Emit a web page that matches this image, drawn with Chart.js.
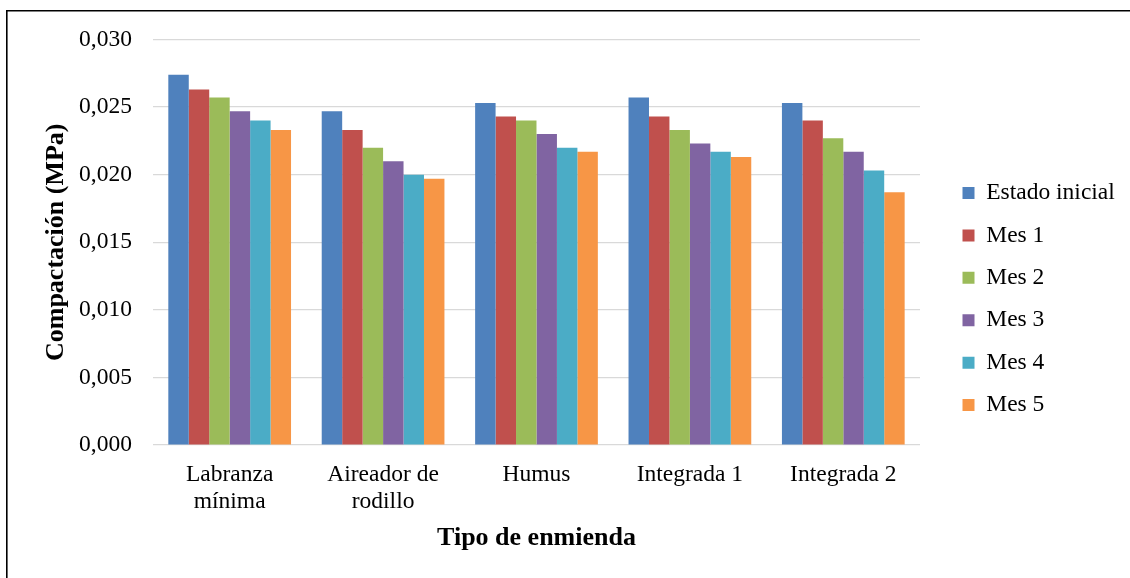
<!DOCTYPE html>
<html>
<head>
<meta charset="utf-8">
<script src="https://cdn.jsdelivr.net/npm/chart.js@4.4.1/dist/chart.umd.min.js"></script>
<style>
  html, body { margin: 0; padding: 0; background: #fff; }
  #wrap { position: relative; width: 1130px; height: 578px; }
</style>
</head>
<body>
<div id="wrap"><canvas id="c" width="1130" height="578"></canvas></div>
<script>
const categories = [['Labranza', 'mínima'], ['Aireador de', 'rodillo'], 'Humus', 'Integrada 1', 'Integrada 2'];
const seriesNames = ['Estado inicial', 'Mes 1', 'Mes 2', 'Mes 3', 'Mes 4', 'Mes 5'];
const estadoInicial = [0.0274, 0.0247, 0.0253, 0.0257, 0.0253];
const mes1 = [0.0263, 0.0233, 0.0243, 0.0243, 0.0240];
const mes2 = [0.0257, 0.0220, 0.0240, 0.0233, 0.0227];
const mes3 = [0.0247, 0.0210, 0.0230, 0.0223, 0.0217];
const mes4 = [0.0240, 0.0200, 0.0220, 0.0217, 0.0203];
const mes5 = [0.0233, 0.0197, 0.0217, 0.0213, 0.0187];
const yTickLabels = ['0,000', '0,005', '0,010', '0,015', '0,020', '0,025', '0,030'];
const colors = ['#4F81BD', '#C0504D', '#9BBB59', '#8064A2', '#4BACC6', '#F79646'];

const serif = "'Times New Roman', 'Liberation Serif', serif";
const allSeries = [estadoInicial, mes1, mes2, mes3, mes4, mes5];

const PLOT_RIGHT = 920;
const LEGEND_BOX_X = 962.5;
const LEGEND_DY = 2.5;
const LEGEND_PAD = 18.9;

const borderPlugin = {
  id: 'frame',
  beforeDraw(chart) {
    const ctx = chart.ctx;
    ctx.save();
    ctx.fillStyle = '#fff';
    ctx.fillRect(0, 0, chart.width, chart.height);
    ctx.strokeStyle = '#000';
    ctx.lineWidth = 1.6;
    ctx.beginPath();
    ctx.moveTo(6.8, chart.height);
    ctx.lineTo(6.8, 10.8);
    ctx.lineTo(chart.width, 10.8);
    ctx.stroke();
    ctx.restore();
  }
};

const legendPlace = {
  id: 'legendPlace',
  beforeUpdate(chart) {
    const lg = chart.legend;
    if (lg && !lg._fixedWidth) {
      lg._fixedWidth = true;
      const origFit = lg.fit;
      lg.fit = function () {
        origFit.call(this);
        this.width = chart.width - PLOT_RIGHT;
      };
    }
  },
  afterLayout(chart) {
    const lg = chart.legend;
    if (!lg) return;
    const w = lg.right - lg.left;
    lg.left = LEGEND_BOX_X - LEGEND_PAD;
    lg.right = lg.left + w;
    lg.top += LEGEND_DY; lg.bottom += LEGEND_DY;
  }
};

new Chart(document.getElementById('c'), {
  type: 'bar',
  data: {
    labels: categories,
    datasets: allSeries.map((d, i) => ({
      label: seriesNames[i],
      data: d,
      backgroundColor: colors[i],
      borderWidth: 0,
      categoryPercentage: 0.8,
      barPercentage: 1.0
    }))
  },
  options: {
    responsive: false,
    animation: false,
    devicePixelRatio: 1,
    layout: { padding: { left: 40.4, top: 39.5, right: 0, bottom: 24.4 } },
    plugins: {
      tooltip: { enabled: false },
      legend: {
        position: 'right',
        align: 'center',
        labels: {
          boxWidth: 12,
          boxHeight: 12,
          padding: LEGEND_PAD,
          color: '#000',
          font: { family: serif, size: 23.5 }
        }
      }
    },
    scales: {
      x: {
        grid: { display: false, drawTicks: false, tickLength: 0 },
        border: { display: false },
        ticks: {
          color: '#000',
          padding: 16.6,
          maxRotation: 0,
          autoSkip: false,
          font: { family: serif, size: 23.5, lineHeight: 1.14 }
        },
        title: {
          display: true,
          text: 'Tipo de enmienda',
          color: '#000',
          padding: { top: -9.4, bottom: 0 },
          font: { family: serif, size: 26, weight: 'bold', lineHeight: 1.2 }
        }
      },
      y: {
        min: 0,
        max: 0.030,
        grid: { color: '#d9d9d9', lineWidth: 1.2, drawTicks: false, tickLength: 0 },
        border: { display: false },
        ticks: {
          stepSize: 0.005,
          color: '#000',
          padding: 21,
          font: { family: serif, size: 23.5 },
          callback: (v, i) => yTickLabels[i]
        },
        title: {
          display: true,
          text: 'Compactación (MPa)',
          color: '#000',
          padding: { top: 0, bottom: -13.5 },
          font: { family: serif, size: 26, weight: 'bold', lineHeight: 1.2 }
        }
      }
    }
  },
  plugins: [borderPlugin, legendPlace]
});
</script>
</body>
</html>
